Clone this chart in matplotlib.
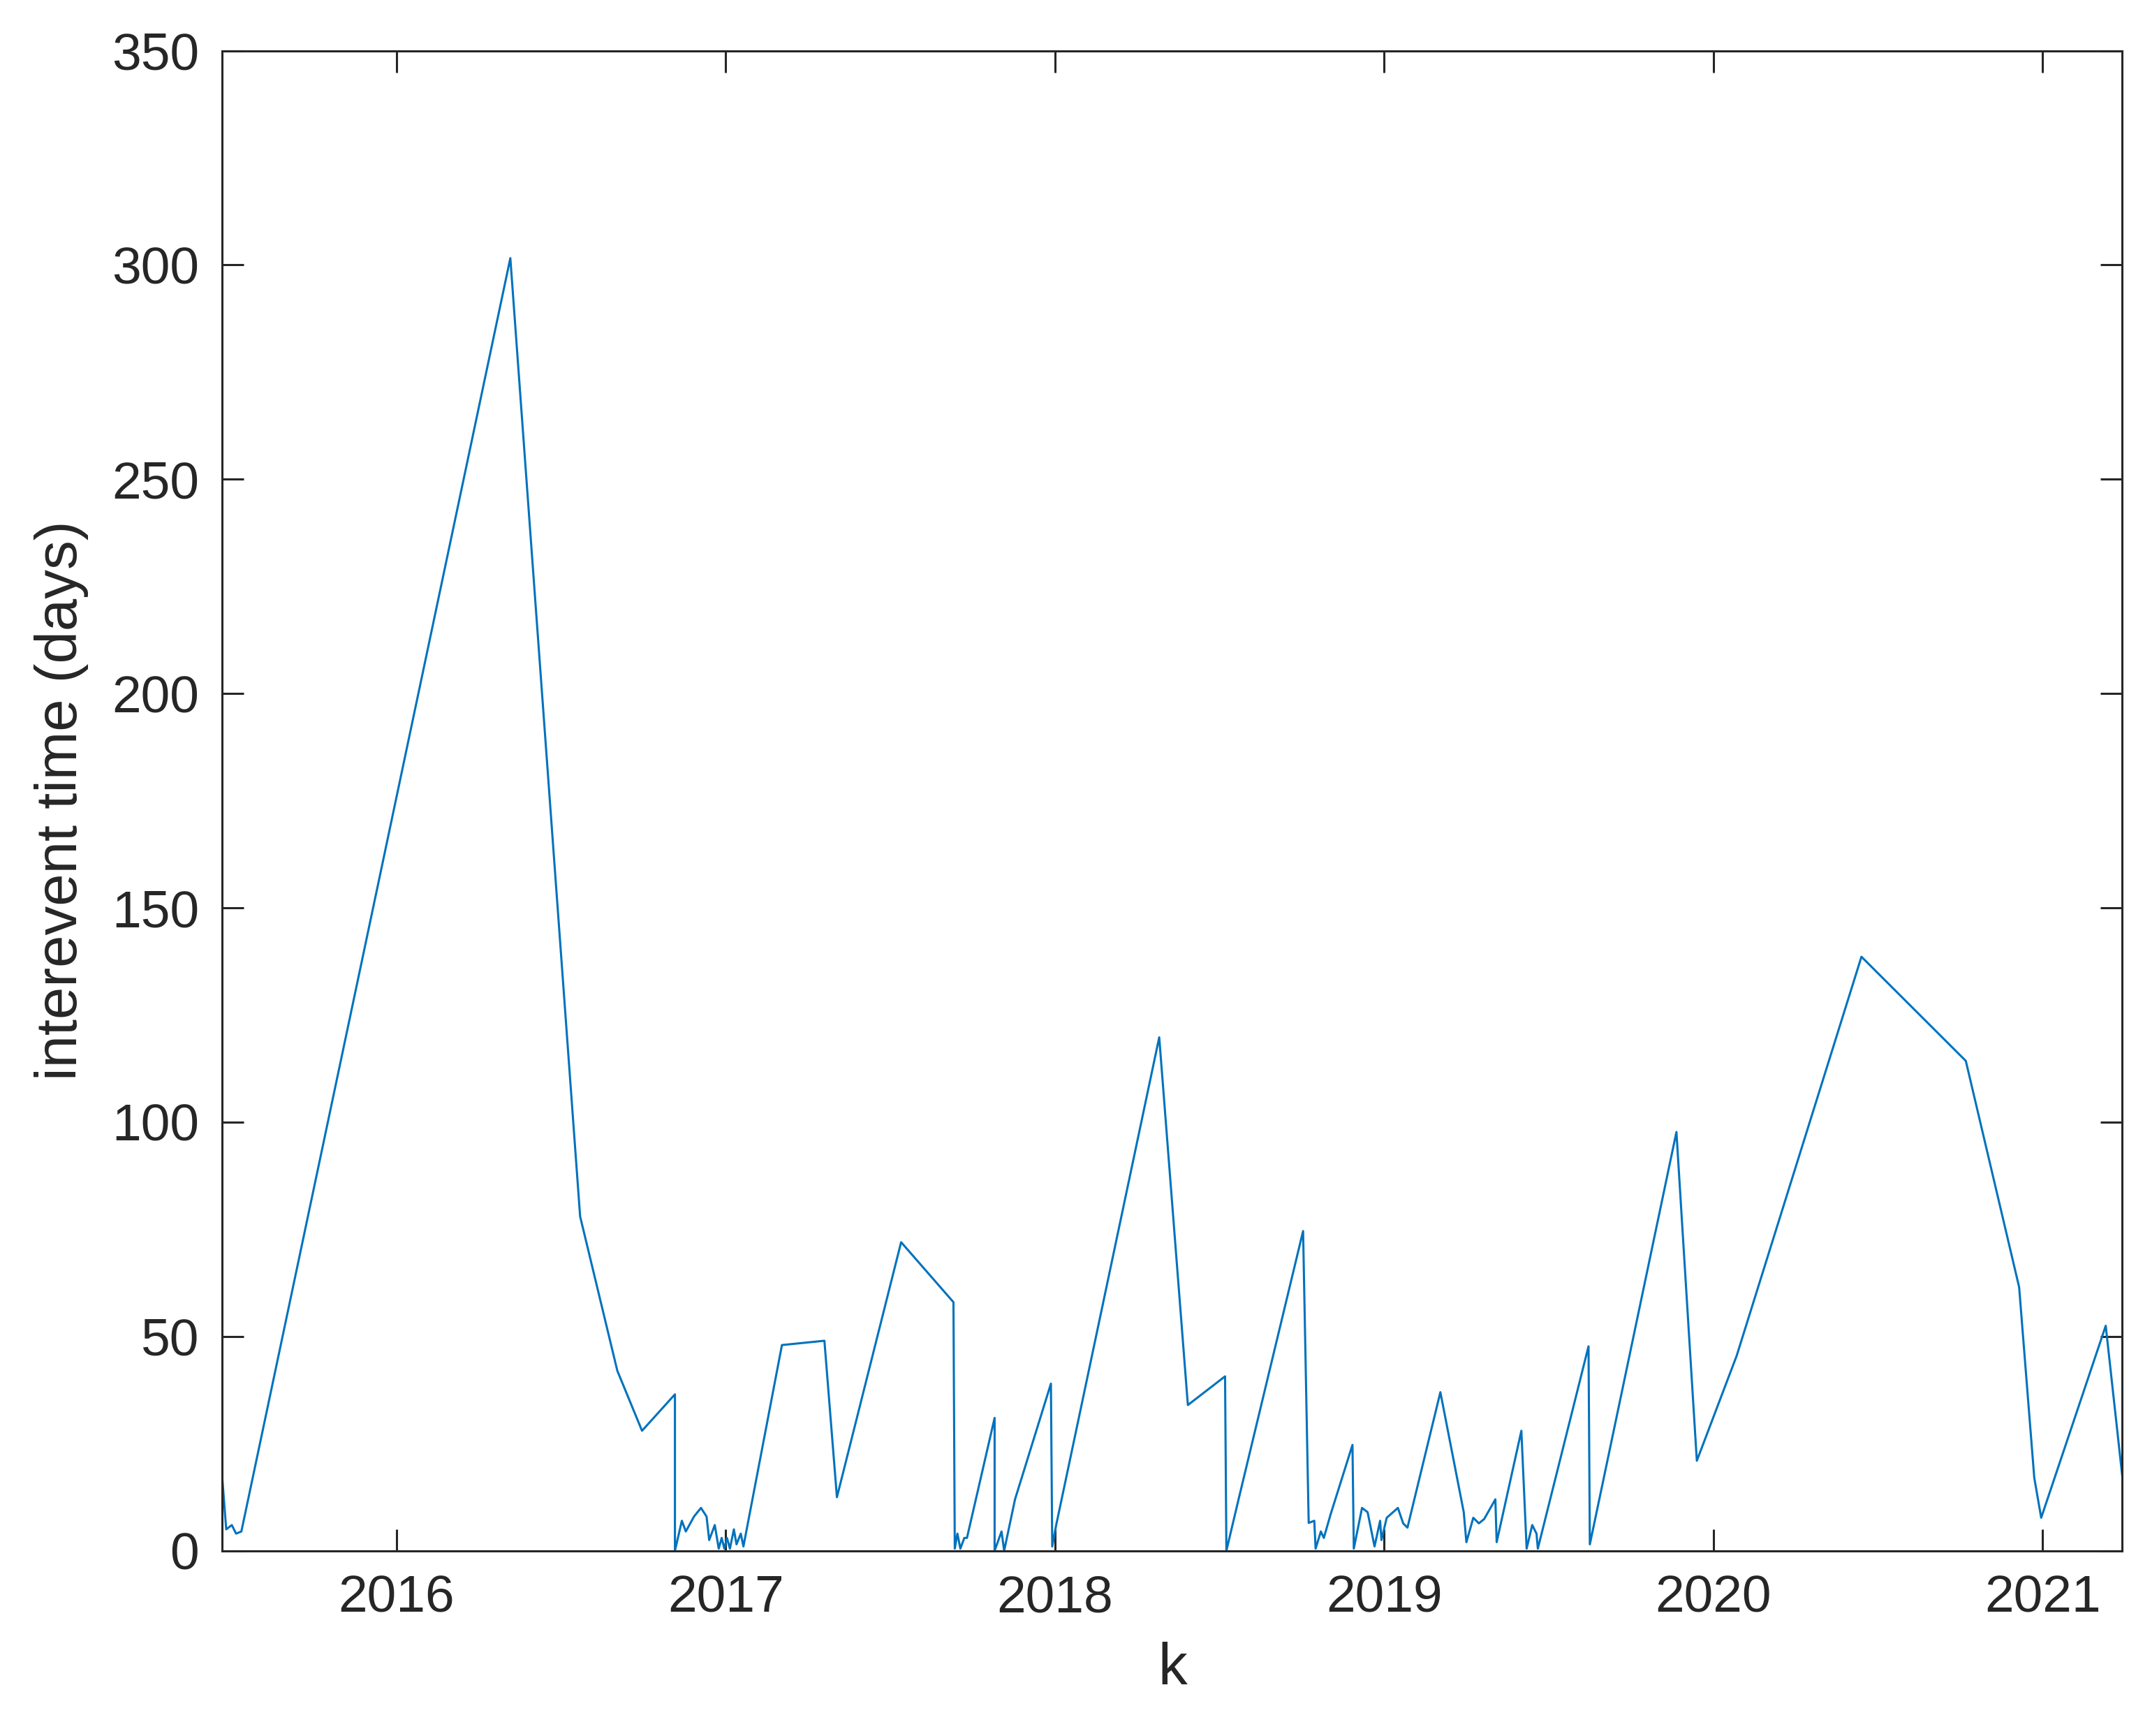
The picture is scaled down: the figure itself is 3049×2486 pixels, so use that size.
import numpy as np
import matplotlib.pyplot as plt

# event dates (decimal years) and interevent times (days)
years = [2015.471, 2015.483, 2015.500, 2015.513, 2015.529, 2016.346, 2016.558, 2016.671,
         2016.746, 2016.846, 2016.846, 2016.867, 2016.879, 2016.904, 2016.925, 2016.942,
         2016.950, 2016.967, 2016.979, 2016.988, 2016.996, 2017.004, 2017.013, 2017.025,
         2017.033, 2017.046, 2017.054, 2017.171, 2017.300, 2017.338, 2017.533, 2017.692,
         2017.696, 2017.704, 2017.713, 2017.725, 2017.733, 2017.817, 2017.817, 2017.838,
         2017.846, 2017.879, 2017.988, 2017.992, 2018.004, 2018.317, 2018.404, 2018.517,
         2018.521, 2018.558, 2018.754, 2018.771, 2018.788, 2018.792, 2018.808, 2018.817,
         2018.838, 2018.904, 2018.908, 2018.933, 2018.950, 2018.971, 2018.988, 2018.992,
         2019.008, 2019.042, 2019.058, 2019.071, 2019.171, 2019.242, 2019.250, 2019.271,
         2019.288, 2019.304, 2019.338, 2019.342, 2019.417, 2019.433, 2019.450, 2019.463,
         2019.467, 2019.621, 2019.625, 2019.888, 2019.950, 2020.071, 2020.450, 2020.767,
         2020.929, 2020.975, 2020.996, 2021.192, 2021.242]
interevent = [17, 5, 6, 4, 4.5, 301.6, 78, 42,
              28, 36.5, 0, 7, 4.5, 8, 10, 8,
              2.5, 6, 0.5, 3, 0.5, 3, 0.5, 5,
              1.5, 4, 1, 48, 49, 12.5, 72, 58,
              0.5, 4, 0.5, 3, 3, 31, 0, 4.5,
              0, 12, 39, 1, 6, 119.8, 34, 40.7,
              0, 12, 74.6, 6.5, 7, 0.5, 4.5, 3,
              8.6, 24.7, 0.5, 10, 9, 1, 7, 2.5,
              7.7, 10, 6.4, 5.4, 37, 9, 2, 7.7,
              6.4, 7.4, 12, 2, 28, 0.5, 6, 4,
              0.5, 47.7, 1.5, 97.7, 21, 45.5, 138.6, 114.3,
              61.5, 17, 7.7, 52.5, 17.6]

plt.rcParams['font.family'] = ['Liberation Sans', 'DejaVu Sans']

fig = plt.figure(figsize=(15.245, 12.43), dpi=200)
ax = fig.add_axes([0.1044, 0.1067, 0.8924, 0.8641])
ax.plot(years, interevent, color='#0072BD', lw=1.1)

ax.set_xlim(2015.471, 2021.242)
ax.set_ylim(0, 350)
ax.set_xticks([2016, 2017, 2018, 2019, 2020, 2021])
ax.set_xticklabels(['2016', '2017', '2018', '2019', '2020', '2021'])
ax.set_yticks(np.arange(0, 351, 50))
ax.tick_params(direction='in', top=True, right=True, labelsize=27, length=11,
               width=1.1, colors='#262626', pad=12)
for s in ax.spines.values():
    s.set_color('#262626')
    s.set_linewidth(1.1)
ax.set_xlabel('k', fontsize=30, color='#262626', labelpad=10)
ax.set_ylabel('interevent time (days)', fontsize=30, color='#262626', labelpad=12)

fig.savefig('out.png', dpi=200)
